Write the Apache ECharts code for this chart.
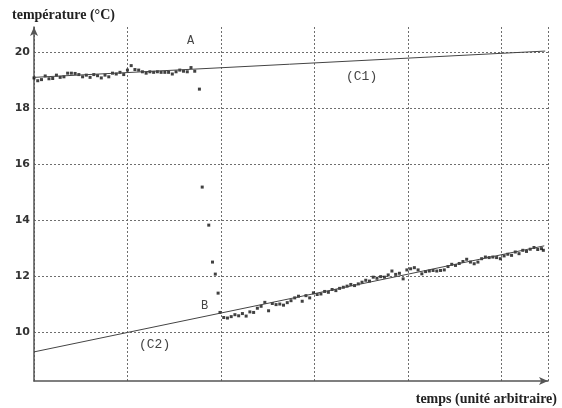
<!DOCTYPE html>
<html>
<head>
<meta charset="utf-8">
<script src="https://cdn.jsdelivr.net/npm/echarts@6/dist/echarts.min.js"></script>
<style>html,body{margin:0;padding:0;background:#fff}#c{width:562px;height:408px}</style>
</head>
<body>
<div id="c"></div>
<script>
// tick labels
var yTicks = [10, 12, 14, 16, 18, 20];
// measured temperatures before the mixing (around A)
var phase1 = [
  [0.00,19.08],[0.04,18.98],[0.08,19.02],[0.12,19.15],[0.16,19.05],[0.20,19.06],[0.24,19.18],[0.28,19.10],
  [0.32,19.12],[0.36,19.25],[0.40,19.25],[0.44,19.24],[0.48,19.20],[0.52,19.12],[0.56,19.18],[0.60,19.10],
  [0.64,19.20],[0.68,19.16],[0.72,19.08],[0.76,19.18],[0.80,19.12],[0.84,19.25],[0.88,19.22],[0.92,19.28],
  [0.96,19.20],[1.00,19.36],[1.04,19.52],[1.08,19.38],[1.12,19.36],[1.16,19.30],[1.20,19.25],[1.24,19.30],
  [1.28,19.28],[1.32,19.30],[1.36,19.28],[1.40,19.28],[1.44,19.28],[1.48,19.22],[1.52,19.30],[1.56,19.36],
  [1.60,19.32],[1.64,19.30],[1.68,19.45],[1.72,19.32]
];
// rapid drop
var phase2 = [[1.77,18.68],[1.80,15.18],[1.87,13.82],[1.91,12.50],[1.94,12.07],[1.97,11.39]];
// measured temperatures after (around B)
var phase3 = [
  [1.99,10.70],[2.03,10.52],[2.07,10.50],[2.11,10.55],[2.15,10.62],[2.19,10.58],[2.23,10.66],[2.27,10.57],
  [2.31,10.72],[2.35,10.70],[2.39,10.85],[2.43,10.92],[2.47,11.06],[2.51,10.76],[2.55,11.02],[2.59,10.98],
  [2.63,11.00],[2.67,10.96],[2.71,11.05],[2.75,11.12],[2.79,11.22],[2.83,11.28],[2.87,11.10],[2.91,11.30],
  [2.95,11.22],[2.99,11.40],[3.03,11.34],[3.07,11.36],[3.11,11.45],[3.15,11.42],[3.19,11.52],[3.23,11.48],
  [3.27,11.56],[3.31,11.60],[3.35,11.64],[3.39,11.70],[3.43,11.66],[3.47,11.72],[3.51,11.78],[3.55,11.85],
  [3.59,11.82],[3.63,11.96],[3.67,11.92],[3.71,11.98],[3.75,11.96],[3.79,12.04],[3.83,12.18],[3.87,12.06],
  [3.91,12.10],[3.95,11.90],[3.99,12.22],[4.03,12.26],[4.07,12.30],[4.11,12.22],[4.15,12.08],[4.19,12.16],
  [4.23,12.18],[4.27,12.20],[4.31,12.18],[4.35,12.20],[4.39,12.22],[4.43,12.34],[4.47,12.42],[4.51,12.38],
  [4.55,12.45],[4.59,12.52],[4.63,12.60],[4.67,12.50],[4.71,12.44],[4.75,12.50],[4.79,12.62],[4.83,12.68],
  [4.87,12.66],[4.91,12.68],[4.95,12.66],[4.99,12.62],[5.03,12.72],[5.07,12.78],[5.11,12.74],[5.15,12.86],
  [5.19,12.80],[5.23,12.92],[5.27,12.88],[5.31,12.96],[5.35,13.02],[5.39,12.95],[5.43,12.98],[5.45,12.92]
];
// fitted lines
var lineC1 = [[0, 19.10], [5.47, 20.04]];
var lineC2 = [[0, 9.29], [5.46, 13.08]];

var chart = echarts.init(document.getElementById('c'), null, {renderer: 'canvas'});
var grid = {left: 34, right: 14, top: 27, bottom: 27};
var dotted = {color: '#6e6e6e', width: 1, type: [2, 2]};
var scatterStyle = {
  type: 'scatter', symbol: 'rect', symbolSize: 3,
  itemStyle: {color: '#111'}, silent: true, animation: false
};
chart.setOption({
  animation: false,
  grid: grid,
  xAxis: {
    type: 'value', min: 0, max: 5.5, interval: 1,
    axisLine: {show: true, lineStyle: {color: '#555', width: 1.5}, symbol: ['none', 'arrow'], symbolSize: [6, 9]},
    axisTick: {show: false},
    axisLabel: {show: false},
    splitLine: {show: true, lineStyle: dotted}
  },
  yAxis: {
    type: 'value', min: 8.25, max: 20.9,
    axisLine: {show: true, lineStyle: {color: '#555', width: 1.5}, symbol: ['none', 'arrow'], symbolSize: [6, 9]},
    axisTick: {show: false, customValues: yTicks},
    axisLabel: {show: true, customValues: yTicks, color: '#333', fontFamily: 'DejaVu Sans', fontWeight: 'bold', fontSize: 11, margin: 4},
    splitLine: {show: true, lineStyle: dotted}
  },
  series: [
    Object.assign({data: phase1}, scatterStyle),
    Object.assign({data: phase2}, scatterStyle),
    Object.assign({data: phase3}, scatterStyle),
    {type: 'line', data: lineC1, symbol: 'none', lineStyle: {color: '#444', width: 1}, silent: true},
    {type: 'line', data: lineC2, symbol: 'none', lineStyle: {color: '#444', width: 1}, silent: true}
  ],
  graphic: [
    {type: 'text', left: 12, top: 8, style: {text: 'température (°C)', font: 'bold 14px "Liberation Serif"', fill: '#222'}},
    {type: 'text', right: 5, top: 392, style: {text: 'temps (unité arbitraire)', font: 'bold 14px "Liberation Serif"', fill: '#222'}},
    {type: 'text', left: 187, top: 35, style: {text: 'A', font: '12px "Liberation Mono"', fill: '#444'}},
    {type: 'text', left: 346, top: 70, style: {text: '(C1)', font: '13px "Liberation Mono"', fill: '#444'}},
    {type: 'text', left: 201, top: 300, style: {text: 'B', font: '12px "Liberation Mono"', fill: '#444'}},
    {type: 'text', left: 139, top: 338, style: {text: '(C2)', font: '13px "Liberation Mono"', fill: '#444'}}
  ]
});
</script>
</body>
</html>
